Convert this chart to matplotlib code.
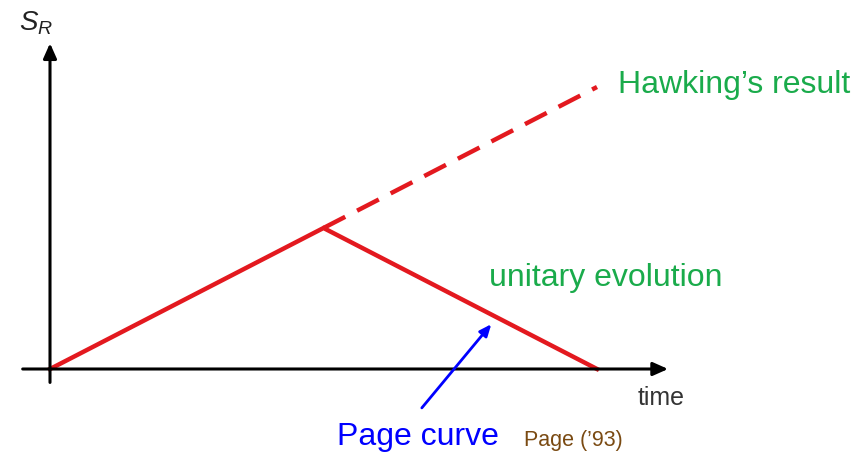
import matplotlib
matplotlib.use('Agg')
import matplotlib.pyplot as plt

# data (time in units of Page time, entropy in units of peak entropy)
page_t = [0, 1, 2]
page_S = [0, 1, 0]
hawking_t = [1, 2]
hawking_S = [1, 2]

plt.rcParams['font.family'] = ['Liberation Sans', 'DejaVu Sans']
plt.rcParams['mathtext.fontset'] = 'custom'
plt.rcParams['mathtext.it'] = 'Liberation Sans:italic'
plt.rcParams['mathtext.rm'] = 'Liberation Sans'

red = '#e3191f'
green = '#1aab4b'

fig = plt.figure(figsize=(8.68, 4.55), dpi=100)
ax = fig.add_axes([0, 0, 1, 1])
ax.set_xlim(-50 / 273.5, 818 / 273.5)
ax.set_ylim(-86 / 141, 369 / 141)
ax.axis('off')

#axes with arrows
ax.annotate('', xy=(2.27, 0), xytext=(-0.11, 0),
            arrowprops=dict(arrowstyle='-|>,head_length=0.9,head_width=0.4', color='black', lw=2.2))
ax.annotate('', xy=(0, 2.33), xytext=(0, -0.115),
            arrowprops=dict(arrowstyle='-|>,head_length=0.9,head_width=0.4', color='black', lw=2.2))

#curves
ax.plot(hawking_t, hawking_S, color=red, lw=3.2, dashes=(5.5, 3), solid_capstyle='butt')
ax.plot(page_t, page_S, color=red, lw=3.2, solid_joinstyle='miter')

#labels
ax.text(-0.115, 2.45, '$S_R$', fontsize=20, va='center', ha='left', color='#222222')
ax.text(2.15, -0.206, 'time', fontsize=18, va='center', ha='left', color='#333333')
ax.text(2.077, 2.014, 'Hawking\u2019s result', fontsize=23, va='center', ha='left', color=green)
ax.text(1.605, 0.645, 'unitary evolution', fontsize=23, va='center', ha='left', color=green)
ax.text(1.049, -0.482, 'Page curve', fontsize=23, va='center', ha='left', color='#0000ff')
ax.text(1.733, -0.504, 'Page (\u201993)', fontsize=15.5, va='center', ha='left', color='#7a4a12')

ax.annotate('', xy=(1.62, 0.333), xytext=(1.353, -0.291),
            arrowprops=dict(arrowstyle='-|>,head_length=0.7,head_width=0.3', color='#0000ff', lw=2))

fig.savefig('out.png', dpi=100)
